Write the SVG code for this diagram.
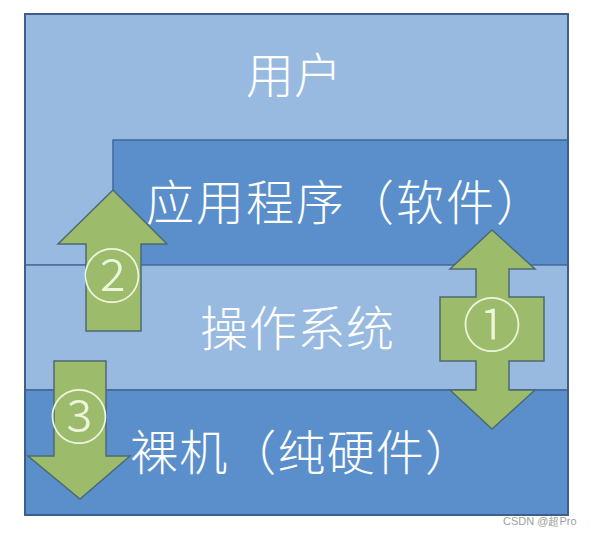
<svg xmlns="http://www.w3.org/2000/svg" width="591" height="536" viewBox="0 0 591 536">
<style>
.light{fill:#98bae0;stroke:#4a6f9e;stroke-width:1.5}
.dark{fill:#5a8fcb;stroke:#40689a;stroke-width:1.5}
.lbl{font-family:"Noto Sans CJK SC","Noto Sans",sans-serif;font-weight:300;font-size:48px;fill:#ffffff}
.arrow{fill:#9cbc6c;stroke:#4d6a73;stroke-width:1.5;stroke-linejoin:miter}
.num{font-family:"Noto Sans CJK SC","DejaVu Sans",sans-serif;font-weight:300;font-size:59px;fill:#eef5dd;text-anchor:middle}
.wm{font-family:"Liberation Sans",Arial,sans-serif;font-size:11px;fill:#a0a0a0}
</style>
<rect width="591" height="536" fill="#ffffff"/>
<g id="user">
<rect class="light" x="25" y="14" width="543" height="251"/>
<text class="lbl" x="246" y="93" textLength="96" lengthAdjust="spacing">用户</text>
</g>
<g id="app">
<rect class="dark" x="113" y="140" width="455" height="125"/>
<text class="lbl" x="146" y="220" textLength="398" lengthAdjust="spacing">应用程序（软件）</text>
</g>
<g id="os">
<rect class="light" x="25" y="265" width="543" height="125"/>
<text class="lbl" x="200" y="346" textLength="194" lengthAdjust="spacing">操作系统</text>
</g>
<g id="hardware">
<rect class="dark" x="25" y="390" width="543" height="125"/>
<text class="lbl" x="130" y="470" textLength="343" lengthAdjust="spacing">裸机（纯硬件）</text>
</g>
<rect x="25" y="14" width="543" height="501" fill="none" stroke="#3d5f8a" stroke-width="2"/>
<g id="connectors">
<g id="arrow2">
<polygon class="arrow" points="113,190 167,244 141,244 141,331 86,331 86,244 58,244"/>
<text class="num" x="112" y="298">②</text>
</g>
<g id="arrow1">
<polygon class="arrow" points="492,230 535,269 509,269 509,297 544,297 544,361 509,361 509,390 535,390 492,429 450,390 476,390 476,361 440,361 440,297 476,297 476,269 450,269"/>
<text class="num" x="492" y="347">①</text>
</g>
<g id="arrow3">
<polygon class="arrow" points="54,361 106,361 106,456 130,456 80,499 28,456 54,456"/>
<text class="num" x="79" y="439">③</text>
</g>
</g>
<text class="wm" x="503" y="525">CSDN @超Pro</text>
</svg>
